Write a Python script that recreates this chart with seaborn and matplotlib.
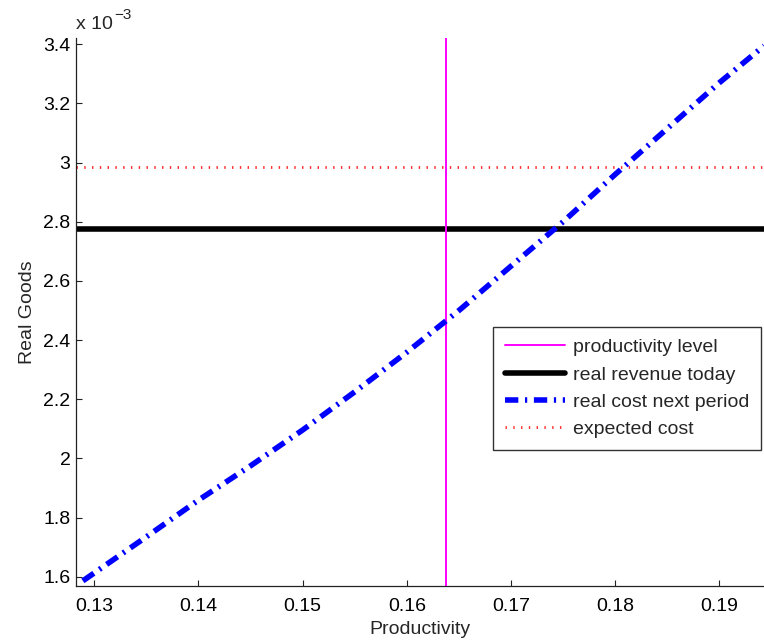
import numpy as np
import pandas as pd
import matplotlib
matplotlib.use("Agg")
import matplotlib.pyplot as plt
import seaborn as sns

# ---- data (values in units of 1e-3) ----
productivity = [0.1289, 0.135, 0.14, 0.145, 0.15, 0.155, 0.16, 0.165, 0.17, 0.175, 0.18, 0.185, 0.19, 0.1943]
real_cost_next = [1.586, 1.735, 1.859, 1.975, 2.096, 2.225, 2.359, 2.500, 2.650, 2.800, 2.960, 3.115, 3.270, 3.395]
productivity_level = 0.1638
real_revenue_today = 2.777
expected_cost = 2.985
xticks = [0.13, 0.14, 0.15, 0.16, 0.17, 0.18, 0.19]
yticks = [1.6, 1.8, 2.0, 2.2, 2.4, 2.6, 2.8, 3.0, 3.2, 3.4]

sns.set_style("ticks")
plt.rcParams['font.family'] = ['Liberation Sans', 'DejaVu Sans']

FS = 14
W, H = 764, 644
fig = plt.figure(figsize=(W / 100, H / 100), dpi=100)
ax = fig.add_axes([76 / W, 58.3 / H, (W - 76) / W, (605.7 - 58.3) / H])

df = pd.DataFrame({"x": productivity, "y": real_cost_next})

xlim = (0.12824, 0.19429)
ylim = (1.5696, 3.4203)

ax.axvline(productivity_level, color="#ff00ff", lw=1.4, label="productivity level", zorder=3)
ax.axhline(real_revenue_today, color="black", lw=4, label="real revenue today", zorder=2)
sns.lineplot(data=df, x="x", y="y", ax=ax, color="#0000ff", lw=4,
             label="real cost next period", zorder=4)
ax.lines[-1].set_dashes((2.4, 1.2, 0.4, 1.2))
ax.lines[-1].set_dash_capstyle("butt")
ax.axhline(expected_cost, color="#ff2a2a", lw=2, label="expected cost", zorder=2)
ax.lines[-1].set_dashes((0.5, 2.3))
ax.lines[-1].set_dash_capstyle("butt")

ax.set_xlim(*xlim)
ax.set_ylim(*ylim)
ax.set_xticks(xticks)
ax.set_xticklabels([f"{v:g}" for v in xticks])
ax.set_yticks(yticks)
ax.set_yticklabels([f"{v:g}" for v in yticks])

for s in ["top", "right"]:
    ax.spines[s].set_visible(False)
for s in ["left", "bottom"]:
    ax.spines[s].set_color("#222222")
    ax.spines[s].set_linewidth(0.9)
ax.tick_params(direction="in", length=4, width=0.8, color="#222222",
               labelsize=FS, labelcolor="black")
ax.tick_params(axis="x", pad=9)
ax.tick_params(axis="y", pad=4)

ax.set_xlabel("Productivity", fontsize=FS, labelpad=4)
ax.set_ylabel("Real Goods", fontsize=FS, labelpad=5)

fig.text(76 / W, 1 - 29 / H, "x 10", fontsize=FS, ha="left", va="baseline")
fig.text(114 / W, 1 - 19 / H, "\u22123", fontsize=11, ha="left", va="baseline")

leg = ax.legend(loc="upper left", bbox_to_anchor=(493 / W, 1 - 327 / H),
                bbox_transform=fig.transFigure, borderaxespad=0,
                fancybox=False, frameon=True, edgecolor="black",
                fontsize=FS, handlelength=3.1, handletextpad=0.4,
                labelspacing=0.5, borderpad=0.6)
leg.get_frame().set_linewidth(1.0)

fig.savefig("out.png", dpi=100)
